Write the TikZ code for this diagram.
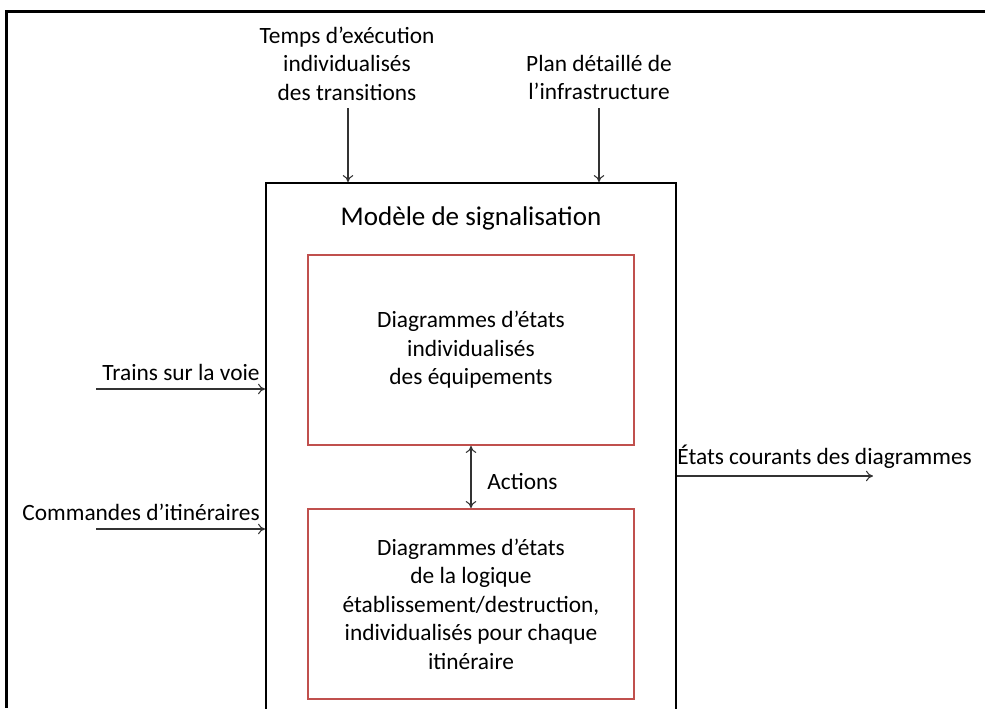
\documentclass[tikz,border=0pt]{standalone}
\usepackage{fontspec}
\setmainfont{Carlito}
\usetikzlibrary{arrows.meta}
\definecolor{boxred}{RGB}{192,80,77}
\tikzset{
  txt/.style={align=center,inner sep=0pt,font=\fontsize{13.3}{16.2}\selectfont},
  mainbox/.style={draw,line width=1.1pt,minimum width=8.2cm,minimum height=10.94cm},
  redbox/.style={draw=boxred,line width=1.1pt,minimum width=6.52cm,minimum height=3.8cm,txt},
  flow/.style={draw=black!80,line width=0.6pt,-{To[length=4pt,width=6pt]}},
}
\begin{document}
\begin{tikzpicture}[x=0.02cm,y=-0.02cm]
            \clip (0,0) rectangle (985,708);
            \draw[line width=1.6pt] (985,11.5) -- (6.5,11.5) -- (6.5,708);
            % signalling model
            \node[mainbox] (model) at (471,456.5) {};
            \node[txt,font=\fontsize{15.4}{18}\selectfont] (title) at (471,218) {Modèle de signalisation};
            \node[redbox] (equip) at (471,350) {Diagrammes d’états\\individualisés\\des équipements};
            \node[redbox] (route) at (471,604) {Diagrammes d’états\\de la logique\\établissement/destruction,\\individualisés pour chaque\\itinéraire};
            \draw[flow,{To[length=4pt,width=6pt]}-{To[length=4pt,width=6pt]}] (equip.south) -- (route.north);
            \node[txt,anchor=west] (actions) at (487,481) {Actions};
            % inputs
            \node[txt] (times) at (347,63.5) {Temps d’exécution\\individualisés\\des transitions};
            \node[txt] (plan) at (599,77.5) {Plan détaillé de\\l’infrastructure};
            \coordinate (timesin) at (348,108);
            \coordinate (planin) at (599,108);
            \draw[flow] (timesin) -- (timesin |- model.north);
            \draw[flow] (planin) -- (planin |- model.north);
            \node[txt,anchor=east] (trains) at (260,372) {Trains sur la voie};
            \node[txt,anchor=east] (cmds) at (260,512) {Commandes d’itinéraires};
            \coordinate (trainsin) at (96,389);
            \coordinate (cmdsin) at (96,529);
            \draw[flow] (trainsin) -- (trainsin -| model.west);
            \draw[flow] (cmdsin) -- (cmdsin -| model.west);
            % output
            \node[txt,anchor=west] (states) at (677,457) {États courants des diagrammes};
            \coordinate (statesout) at (873,476);
            \draw[flow] (statesout -| model.east) -- (statesout);
        \end{tikzpicture}
\end{document}
